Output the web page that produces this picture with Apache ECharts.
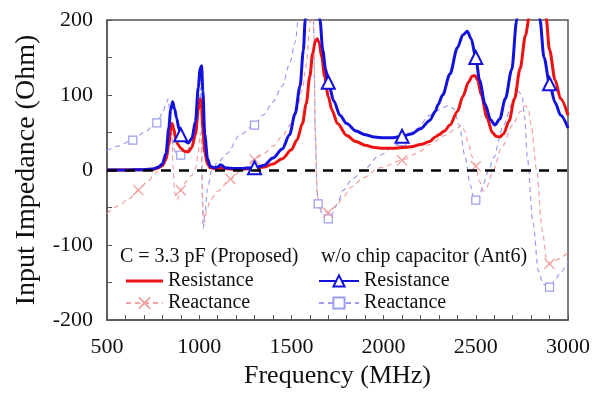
<!DOCTYPE html>
<html><head><meta charset="utf-8">
<script src="https://cdn.jsdelivr.net/npm/echarts@6/dist/echarts.min.js"></script>
<style>html,body{margin:0;padding:0;background:#fff}#c{width:593px;height:394px}</style>
</head><body><div id="c"></div>
<script>
// Frequency (MHz) / impedance (Ohm)
const xTickLabels = [500, 1000, 1500, 2000, 2500, 3000];
const yTickLabels = [-200, -100, 0, 100, 200];

// C = 3.3 pF (Proposed)
const propResistance = [[500,0],[600,0],[700,0.5],[750,1],[780,3],[800,6],[820,14],[835,33],[845,52],[853,62],[862,55],[872,42],[885,34],[900,29],[920,25],[940,24],[960,30],[980,48],[995,80],[1005,95],[1012,90],[1020,55],[1030,24],[1045,8],[1060,3],[1080,2],[1100,2],[1120,3],[1140,2],[1200,1],[1300,2],[1350,4],[1400,8],[1450,15],[1500,27],[1530,40],[1560,62],[1580,88],[1600,125],[1615,155],[1630,172],[1640,175],[1650,170],[1665,150],[1680,125],[1700,98],[1720,80],[1750,62],[1800,46],[1850,38],[1900,33],[1950,30],[2000,29],[2050,29],[2100,30],[2150,31],[2200,34],[2250,38],[2280,44],[2300,47],[2330,52],[2360,60],[2400,78],[2430,98],[2460,117],[2480,125],[2495,126],[2510,120],[2530,100],[2560,70],[2590,50],[2610,45],[2630,44],[2650,48],[2680,65],[2710,95],[2740,135],[2770,180],[2790,205],[2820,300],[2850,290],[2870,240],[2880,205],[2900,160],[2930,120],[2960,95],[3000,73]];
const propReactance = [[500,-58],[560,-48],[620,-38],[670,-27],[720,-15],[760,-5],[800,8],[820,18],[835,35],[846,52],[852,45],[858,5],[866,-30],[880,-40],[900,-27],[930,-15],[960,-7],[980,2],[995,22],[1005,50],[1010,45],[1015,0],[1020,-50],[1028,-70],[1040,-55],[1060,-40],[1100,-28],[1170,-12],[1230,0],[1300,14],[1350,22],[1400,32],[1450,45],[1500,62],[1530,80],[1560,108],[1580,140],[1600,190],[1612,260],[1622,180],[1630,40],[1640,-35],[1660,-52],[1700,-57],[1720,-52],[1750,-45],[1780,-36],[1830,-22],[1890,-10],[1980,3],[2100,13],[2180,22],[2250,34],[2330,46],[2400,56],[2420,60],[2440,52],[2460,35],[2480,18],[2500,5],[2520,-15],[2540,-28],[2560,-22],[2595,0],[2640,30],[2700,60],[2740,78],[2770,86],[2785,82],[2800,60],[2830,0],[2860,-80],[2885,-120],[2900,-125],[2930,-120],[3000,-110]];

// w/o chip capacitor (Ant6)
const antResistance = [[500,0],[600,0],[700,0.5],[750,1.5],[780,4],[800,8],[820,22],[835,56],[845,80],[856,91],[866,82],[878,69],[890,55],[900,47],[920,39],[940,36],[960,42],[980,65],[995,110],[1005,135],[1013,139],[1020,105],[1030,48],[1045,15],[1060,5],[1080,3],[1100,4],[1115,7],[1125,6],[1140,3],[1200,2],[1300,3],[1350,6],[1400,16],[1450,28],[1490,47],[1520,75],[1547,112],[1565,160],[1575,200],[1590,260],[1610,300],[1630,290],[1645,240],[1655,200],[1670,160],[1685,135],[1700,117],[1730,92],[1763,73],[1800,62],[1850,52],[1900,47],[1950,44],[2000,43],[2050,43],[2100,45],[2150,48],[2200,55],[2250,66],[2280,78],[2295,87],[2320,100],[2360,128],[2400,163],[2430,180],[2454,185],[2475,175],[2500,150],[2520,120],[2550,88],[2580,67],[2604,60],[2630,68],[2660,95],[2695,134],[2722,200],[2750,280],[2790,320],[2820,280],[2848,200],[2870,150],[2900,115],[2930,90],[2960,73],[3000,56]];
const antReactance = [[500,26],[560,32],[640,40],[700,50],[770,63],[800,75],[820,88],[831,95],[840,80],[850,50],[860,30],[875,22],[900,20],[930,25],[960,35],[985,60],[1000,90],[1008,110],[1013,50],[1017,-40],[1022,-78],[1030,-60],[1045,-25],[1068,0],[1100,10],[1150,22],[1221,47],[1300,60],[1350,74],[1400,91],[1450,112],[1492,143],[1520,170],[1547,226],[1570,300],[1600,320],[1620,200],[1630,50],[1638,-20],[1645,-45],[1670,-60],[1700,-65],[1720,-58],[1750,-45],[1780,-27],[1830,-12],[1890,0],[1980,20],[2070,34],[2100,38],[2180,55],[2250,73],[2300,80],[2350,86],[2380,82],[2410,60],[2440,20],[2470,-20],[2490,-38],[2500,-40],[2520,-35],[2540,-19],[2570,0],[2595,16],[2650,60],[2700,90],[2730,105],[2750,100],[2765,70],[2780,15],[2810,-70],[2840,-135],[2865,-152],[2900,-156],[2930,-147],[2957,-137],[3000,-122]];

// frequencies where markers are drawn
const propReactanceMarks = [670, 900, 1170, 1300, 1700, 2100, 2500, 2900];
const antResistanceMarks = [900, 1300, 1700, 2100, 2500, 2900];
const antReactanceMarks = [640, 770, 900, 1300, 1645, 1700, 2100, 2500, 2900];

const FONT = '"Liberation Serif", "Times New Roman", serif';
const RED = '#ee1111', BLUE = '#1212dc', LRED = '#f2a0a0', LBLUE = '#9c9cf0';

function withMarks(points, marks) {
  return points.map(p => marks.includes(p[0]) ? { value: p } : { value: p, symbol: 'none' });
}

const chart = echarts.init(document.getElementById('c'), null, { renderer: 'canvas' });
chart.setOption({
  animation: false,
  backgroundColor: '#fff',
  grid: { left: 107, right: 25, top: 20, bottom: 69, show: true, borderColor: '#555', borderWidth: 1.5, backgroundColor: 'transparent' },
  xAxis: {
    type: 'value', min: xTickLabels[0], max: xTickLabels[xTickLabels.length - 1], interval: 500,
    name: 'Frequency (MHz)', nameLocation: 'middle', nameGap: 36,
    nameTextStyle: { fontFamily: FONT, fontSize: 26, color: '#111' },
    axisLine: { onZero: false, lineStyle: { color: '#555', width: 1.5 } },
    axisTick: { inside: true, length: 5, lineStyle: { color: '#555' } },
    minorTick: { show: true, splitNumber: 5, length: 5, lineStyle: { color: '#555' } },
    splitLine: { show: false },
    axisLabel: { fontFamily: FONT, fontSize: 22, color: '#111', margin: 16, formatter: v => String(v) }
  },
  yAxis: {
    type: 'value', min: yTickLabels[0], max: yTickLabels[yTickLabels.length - 1], interval: 100,
    name: 'Input Impedance (Ohm)', nameLocation: 'middle', nameGap: 66,
    nameTextStyle: { fontFamily: FONT, fontSize: 28, color: '#111' },
    axisLine: { onZero: false, lineStyle: { color: '#555', width: 1.5 } },
    axisTick: { inside: true, length: 5, lineStyle: { color: '#555' } },
    minorTick: { show: true, splitNumber: 2, length: 5, lineStyle: { color: '#555' } },
    splitLine: { show: false },
    axisLabel: { fontFamily: FONT, fontSize: 22, color: '#111', margin: 14, formatter: v => String(v) }
  },
  legend: [
    {
      orient: 'vertical', left: 125, top: 271, padding: 0, itemWidth: 37, itemHeight: 14, itemGap: 2,
      textStyle: { fontFamily: FONT, fontSize: 20, color: '#111', lineHeight: 20 },
      data: [{ name: 'Resistance', icon: 'path://M0,0H40V3H0Z', itemStyle: { color: RED } }, 'Reactance']
    },
    {
      orient: 'vertical', left: 318, top: 271, padding: 0, itemWidth: 40, itemHeight: 14, itemGap: 2,
      textStyle: { fontFamily: FONT, fontSize: 20, color: '#111', lineHeight: 20 },
      data: ['Resistance ', 'Reactance ']
    }
  ],
  graphic: [
    { type: 'text', left: 120, top: 247, style: { text: 'C = 3.3 pF (Proposed)', font: '20px ' + FONT, fill: '#111' } },
    { type: 'text', left: 321, top: 247, style: { text: 'w/o chip capacitor (Ant6)', font: '20px ' + FONT, fill: '#111' } }
  ],
  series: [
    {
      name: 'Reactance ', type: 'line', z: 2, smooth: 0.3, smoothMonotone: 'x',
      symbol: 'rect', symbolSize: 8,
      itemStyle: { color: '#fff', borderColor: LBLUE, borderWidth: 1.2 },
      lineStyle: { color: LBLUE, width: 1.2, type: [5, 4] },
      data: withMarks(antReactance, antReactanceMarks)
    },
    {
      name: 'Reactance', type: 'line', z: 2, smooth: 0.3, smoothMonotone: 'x',
      symbol: 'path://M0,0L10,10M10,0L0,10', symbolSize: 10,
      itemStyle: { color: LRED, borderColor: LRED, borderWidth: 1.3 },
      lineStyle: { color: LRED, width: 1.2, type: [5, 4] },
      data: withMarks(propReactance, propReactanceMarks)
    },
    {
      name: 'Resistance', type: 'line', z: 3, smooth: 0.3, smoothMonotone: 'x',
      symbol: 'none',
      itemStyle: { color: RED },
      lineStyle: { color: RED, width: 3 },
      data: propResistance
    },
    {
      name: 'Resistance ', type: 'line', z: 4, smooth: 0.3, smoothMonotone: 'x',
      symbol: 'triangle', symbolSize: 13,
      itemStyle: { color: '#fff', borderColor: BLUE, borderWidth: 2 },
      lineStyle: { color: BLUE, width: 3 },
      data: withMarks(antResistance, antResistanceMarks),
      markLine: {
        silent: true, symbol: 'none', z: 6, label: { show: false },
        lineStyle: { color: '#000', width: 2.5, type: [10, 8] },
        data: [{ yAxis: 0 }]
      }
    }
  ]
});
</script>
</body></html>
